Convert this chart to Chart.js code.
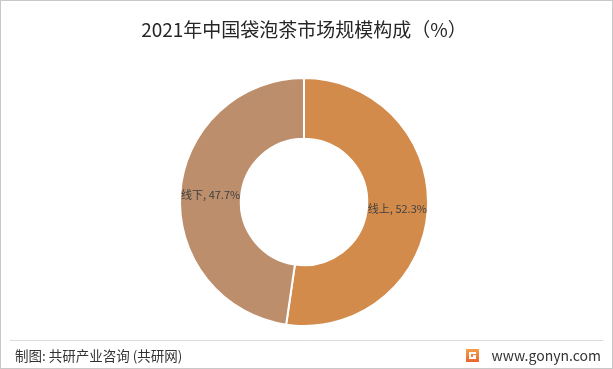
<!DOCTYPE html>
<html>
<head>
<meta charset="utf-8">
<script src="https://cdn.jsdelivr.net/npm/chart.js@4/dist/chart.umd.min.js"></script>
<style>
  html, body { margin: 0; padding: 0; background: #fff; }
  #wrap { position: relative; width: 613px; height: 369px; }
</style>
</head>
<body>
<div id="wrap"><canvas id="teaChart" width="613" height="369"></canvas></div>
<script>
const categories = ['线上', '线下'];
const shares = [52.3, 47.7];
const sliceColors = ['#D38B4C', '#BC8E6C'];

const FONT = '"Noto Sans CJK SC", "Noto Sans", sans-serif';

// Title, footer and frame drawn around the doughnut
const decorPlugin = {
    id: 'decor',
    beforeDraw(chart) {
        const ctx = chart.ctx;
        ctx.save();
        ctx.fillStyle = '#fff';
        ctx.fillRect(0, 0, chart.width, chart.height);
        ctx.restore();
    },
    afterDraw(chart) {
        const ctx = chart.ctx;
        ctx.save();

        // outer frame
        ctx.strokeStyle = '#c8c8c8';
        ctx.lineWidth = 1;
        ctx.strokeRect(0.5, 0.5, chart.width - 1, chart.height - 1);

        // title
        ctx.fillStyle = '#262626';
        ctx.font = '19px ' + FONT;
        ctx.textAlign = 'center';
        ctx.textBaseline = 'middle';
        ctx.fillText('2021年中国袋泡茶市场规模构成（%）', 304, 30);

        // footer separator
        ctx.strokeStyle = '#dcdcdc';
        ctx.beginPath();
        ctx.moveTo(10, 340.5);
        ctx.lineTo(603, 340.5);
        ctx.stroke();

        // footer source text
        ctx.fillStyle = '#333';
        ctx.font = '13.5px ' + FONT;
        ctx.textAlign = 'left';
        ctx.fillText('制图: 共研产业咨询 (共研网)', 15, 356);

        // logo
        const grad = ctx.createLinearGradient(466, 349, 466, 363);
        grad.addColorStop(0, '#f5a04a');
        grad.addColorStop(1, '#e8602c');
        ctx.fillStyle = grad;
        ctx.fillRect(466, 349, 13, 13);
        ctx.fillStyle = '#fff';
        ctx.fillRect(469, 352, 7, 2);
        ctx.fillRect(469, 352, 2, 7);
        ctx.fillRect(469, 357, 7, 2);
        ctx.fillRect(473, 355, 3, 3);

        ctx.fillStyle = '#333';
        ctx.font = '14px ' + FONT;
        ctx.textAlign = 'right';
        ctx.fillText('www.gonyn.com', 601, 356);

        // slice labels
        const meta = chart.getDatasetMeta(0);
        ctx.font = '11px ' + FONT;
        ctx.fillStyle = '#404040';
        ctx.textAlign = 'center';
        meta.data.forEach((arc, i) => {
            const pos = arc.tooltipPosition();
            const text = categories[i] + ', ' + shares[i].toFixed(1) + '%';
            ctx.fillText(text, pos.x, pos.y);
        });

        ctx.restore();
    }
};

const chartCtx = document.getElementById('teaChart').getContext('2d');
new Chart(chartCtx, {
    type: 'doughnut',
    data: {
        labels: categories,
        datasets: [{
            data: shares,
            backgroundColor: sliceColors,
            borderColor: '#ffffff',
            borderWidth: 2
        }]
    },
    options: {
        responsive: false,
        animation: false,
        cutout: '51%',
        layout: {
            padding: { top: 77, bottom: 42, left: 0, right: 5 }
        },
        plugins: {
            legend: { display: false },
            title: { display: false },
            tooltip: { enabled: false }
        }
    },
    plugins: [decorPlugin]
});
</script>
</body>
</html>
